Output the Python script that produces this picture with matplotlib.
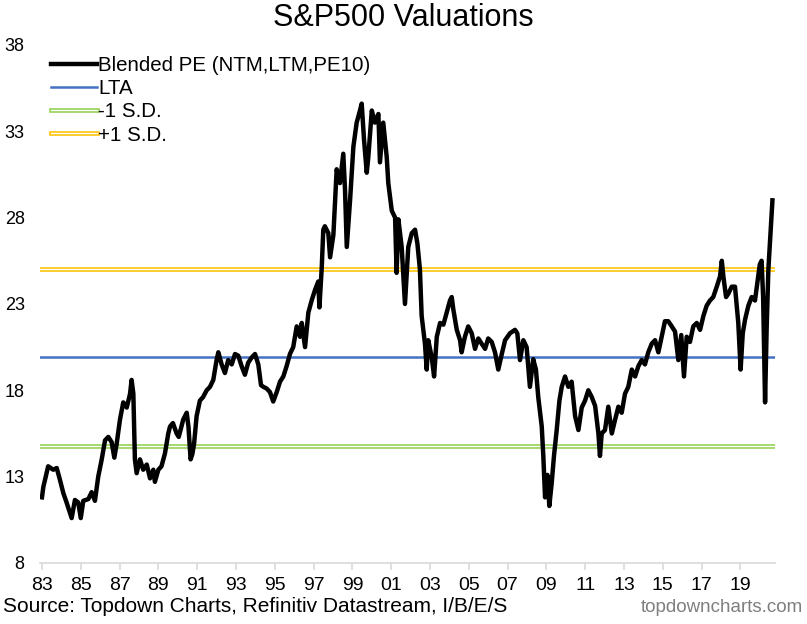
import matplotlib
matplotlib.use('Agg')
import matplotlib.pyplot as plt
import matplotlib.patheffects as pe

plt.rcParams['font.family'] = ['Liberation Sans', 'DejaVu Sans']

# blended PE (decimal year, value)
years = [1983.0, 1983.07, 1983.32, 1983.58, 1983.76, 1983.93, 1984.1, 1984.27, 1984.44, 1984.53,
         1984.7, 1984.87, 1985.0, 1985.13, 1985.39, 1985.56, 1985.73, 1985.9, 1986.08, 1986.25,
         1986.42, 1986.59, 1986.73, 1986.85, 1987.02, 1987.19, 1987.37, 1987.54, 1987.62, 1987.71,
         1987.79, 1987.88, 1988.05, 1988.22, 1988.4, 1988.57, 1988.74, 1988.82, 1989.0, 1989.16,
         1989.34, 1989.51, 1989.6, 1989.75, 1989.94, 1990.05, 1990.28, 1990.46, 1990.55, 1990.66,
         1990.75, 1990.84, 1990.97, 1991.14, 1991.3, 1991.49, 1991.66, 1991.83, 1991.92, 1992.0,
         1992.09, 1992.26, 1992.43, 1992.6, 1992.78, 1992.95, 1993.12, 1993.29, 1993.46, 1993.63,
         1993.81, 1993.98, 1994.15, 1994.29, 1994.41, 1994.58, 1994.75, 1994.92, 1995.1, 1995.27,
         1995.44, 1995.61, 1995.78, 1995.95, 1996.13, 1996.3, 1996.39, 1996.56, 1996.73, 1996.9,
         1997.07, 1997.24, 1997.3, 1997.42, 1997.5, 1997.58, 1997.76, 1997.85, 1998.02, 1998.19,
         1998.36, 1998.53, 1998.62, 1998.71, 1998.88, 1999.05, 1999.22, 1999.39, 1999.48, 1999.6,
         1999.74, 1999.82, 2000.0, 2000.16, 2000.34, 2000.42, 2000.59, 2000.77, 2000.85, 2001.03,
         2001.2, 2001.28, 2001.37, 2001.54, 2001.71, 2001.88, 2002.06, 2002.23, 2002.35, 2002.48,
         2002.57, 2002.74, 2002.83, 2002.91, 2003.09, 2003.21, 2003.35, 2003.52, 2003.69, 2003.86,
         2004.03, 2004.12, 2004.2, 2004.38, 2004.55, 2004.63, 2004.8, 2004.97, 2005.15, 2005.32,
         2005.49, 2005.66, 2005.84, 2006.0, 2006.18, 2006.35, 2006.52, 2006.7, 2006.87, 2007.12,
         2007.38, 2007.5, 2007.64, 2007.81, 2007.98, 2008.15, 2008.32, 2008.46, 2008.58, 2008.76,
         2008.84, 2008.93, 2009.05, 2009.15, 2009.27, 2009.39, 2009.53, 2009.67, 2009.79, 2009.96,
         2010.13, 2010.3, 2010.48, 2010.65, 2010.82, 2010.99, 2011.16, 2011.34, 2011.51, 2011.68,
         2011.76, 2011.85, 2012.02, 2012.19, 2012.37, 2012.54, 2012.71, 2012.88, 2013.05, 2013.22,
         2013.4, 2013.57, 2013.74, 2013.91, 2014.08, 2014.25, 2014.43, 2014.6, 2014.77, 2014.94,
         2015.11, 2015.28, 2015.46, 2015.63, 2015.8, 2015.95, 2016.09, 2016.23, 2016.4, 2016.57,
         2016.75, 2016.92, 2017.09, 2017.26, 2017.43, 2017.6, 2017.78, 2017.95, 2018.04, 2018.12,
         2018.26, 2018.38, 2018.55, 2018.72, 2018.81, 2018.89, 2019.01, 2019.12, 2019.24, 2019.41,
         2019.58, 2019.75, 2019.87, 2020.0, 2020.09, 2020.17, 2020.27, 2020.35, 2020.44, 2020.53,
         2020.65]
blended_pe = [11.8, 12.4, 13.6, 13.4, 13.5, 12.8, 12.05, 11.5, 10.9, 10.6,
              11.65, 11.5, 10.6, 11.6, 11.7, 12.1, 11.6, 13.0, 14.0, 15.1,
              15.3, 15.0, 14.1, 14.9, 16.3, 17.3, 17.0, 17.8, 18.6, 17.8,
              14.0, 13.2, 14.0, 13.4, 13.7, 12.9, 13.4, 12.7, 13.4, 13.6,
              14.35, 15.5, 15.9, 16.1, 15.5, 15.3, 16.3, 16.7, 15.9, 14.0,
              14.3, 14.9, 16.5, 17.4, 17.6, 18.0, 18.2, 18.6, 19.2, 19.75,
              20.2, 19.5, 19.0, 19.75, 19.5, 20.1, 20.0, 19.4, 18.9, 19.6,
              19.9, 20.1, 19.5, 18.3, 18.2, 18.1, 17.9, 17.35, 17.9, 18.5,
              18.8, 19.4, 20.1, 20.5, 21.7, 21.1, 21.9, 20.5, 22.5, 23.2,
              23.8, 24.3, 22.8, 25.1, 27.3, 27.5, 27.1, 25.7, 27.0, 30.8,
              30.0, 31.7, 29.6, 26.3, 29.0, 32.1, 33.5, 34.2, 34.6, 32.5,
              30.6, 31.5, 34.2, 33.5, 34.0, 31.2, 33.5, 31.5, 30.0, 28.4,
              28.0, 24.8, 27.9, 26.3, 23.0, 26.3, 27.1, 27.3, 26.5, 25.0,
              22.3, 20.7, 19.2, 20.9, 19.9, 18.8, 21.1, 21.9, 21.8, 22.5,
              23.2, 23.4, 22.7, 21.5, 20.9, 20.2, 21.1, 21.7, 21.3, 20.4,
              21.0, 20.7, 20.4, 21.0, 20.8, 20.2, 19.2, 20.1, 20.9, 21.3,
              21.5, 21.3, 19.75, 20.9, 20.5, 18.2, 19.8, 19.2, 17.6, 15.9,
              14.2, 11.8, 13.1, 11.3, 12.6, 14.2, 15.7, 17.4, 18.2, 18.8,
              18.2, 18.5, 16.5, 15.7, 17.0, 17.4, 18.0, 17.6, 17.1, 15.5,
              14.2, 15.5, 15.7, 17.05, 15.5, 16.3, 17.05, 16.7, 17.8, 18.2,
              19.2, 18.8, 19.4, 19.75, 19.5, 20.2, 20.7, 20.9, 20.2, 21.1,
              22.0, 22.0, 21.7, 21.4, 19.75, 21.2, 18.8, 21.1, 20.8, 21.7,
              21.9, 21.5, 22.3, 22.9, 23.2, 23.4, 24.0, 24.6, 25.5, 24.6,
              23.4, 23.6, 24.0, 24.0, 22.9, 21.9, 19.2, 21.3, 22.1, 22.9,
              23.4, 23.2, 24.2, 25.3, 25.5, 23.4, 17.3, 21.5, 25.0, 26.7,
              29.0]

lta = 19.9
sd = 5.1

tick_years = list(range(1983, 2020, 2))
tick_labels = ['%02d' % (y % 100) for y in tick_years]

fig = plt.figure(figsize=(8.07, 6.24), dpi=100)
ax = fig.add_axes([0.0496, 0.0978, 0.9107, 0.8302])

# S.D. bands drawn as hollow lines
sd_lo = ax.axhline(lta - sd, color='white', lw=1.0, zorder=2,
                   path_effects=[pe.Stroke(linewidth=3.3, foreground='#92d050'), pe.Normal()])
sd_hi = ax.axhline(lta + sd, color='white', lw=1.0, zorder=2,
                   path_effects=[pe.Stroke(linewidth=3.3, foreground='#ffc000'), pe.Normal()])
lta_line = ax.axhline(lta, color='#4472c4', lw=1.8, zorder=2)
pe_line, = ax.plot(years, blended_pe, color='black', lw=3.2, zorder=3, solid_joinstyle='round')

ax.set_xlim(1982.9, 2020.78)
ax.set_ylim(8, 38)
ax.set_yticks([8, 13, 18, 23, 28, 33, 38])
ax.set_xticks(tick_years)
ax.set_xticklabels(tick_labels)

for s in ['top', 'right', 'left']:
    ax.spines[s].set_visible(False)
ax.spines['bottom'].set_color('#d9d9d9')
ax.spines['bottom'].set_linewidth(1.2)
ax.tick_params(axis='y', length=0, pad=11, labelsize=13)
ax.tick_params(axis='x', length=5, width=1.2, color='#d9d9d9', pad=5, labelsize=14)

ax.legend([pe_line, lta_line, sd_lo, sd_hi],
          ['Blended PE (NTM,LTM,PE10)', 'LTA', '-1 S.D.', '+1 S.D.'],
          loc='upper left', bbox_to_anchor=(0.0, 1.0), frameon=False, fontsize=14.8,
          handlelength=2.2, handletextpad=0.08, labelspacing=0.2, borderaxespad=0.15)

fig.text(0.5, 1 - 18 / 624, 'S&P500 Valuations', ha='center', va='center', fontsize=22)
fig.text(3 / 807, 1 - 607 / 624, 'Source: Topdown Charts, Refinitiv Datastream, I/B/E/S',
         ha='left', va='center', fontsize=15)
fig.text(1 - 4 / 807, 1 - 607 / 624, 'topdowncharts.com', ha='right', va='center',
         fontsize=13.5, color='#7f7f7f')

fig.savefig('out.png', dpi=100)
